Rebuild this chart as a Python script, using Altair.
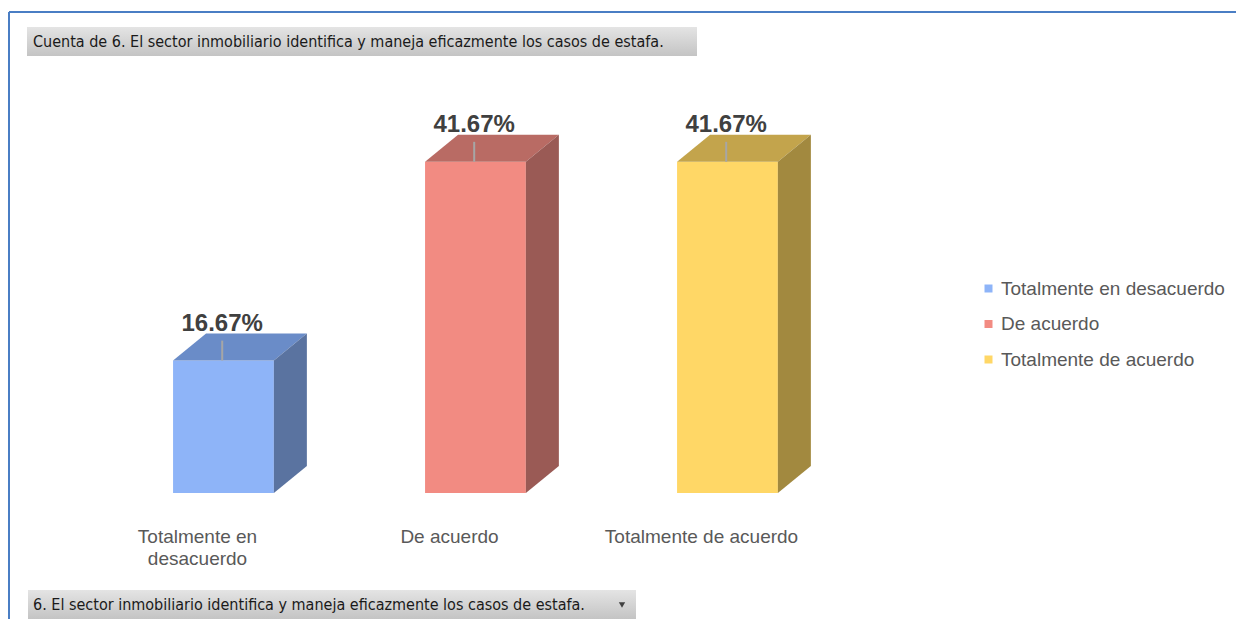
import altair as alt
import pandas as pd

# ---- data ----
categories = ["Totalmente en desacuerdo", "De acuerdo", "Totalmente de acuerdo"]
axis_labels = ["Totalmente en\ndesacuerdo", "De acuerdo", "Totalmente de acuerdo"]
values = [16.67, 41.67, 41.67]
value_labels = ["16.67%", "41.67%", "41.67%"]
front_colors = ["#8EB4F8", "#F28B82", "#FFD766"]
top_colors = ["#6A8CC8", "#B96B64", "#C3A44C"]
side_colors = ["#5A73A0", "#9A5A55", "#A2893F"]
title_text = "Cuenta de 6. El sector  inmobiliario identifica y maneja eficazmente  los casos de estafa."
field_text = "6. El sector  inmobiliario identifica y maneja eficazmente  los casos de estafa."

# ---- geometry of the pseudo-3D bars (in data units) ----
W = 1228
H = 611
HALF = 0.2      # half width of the front face (category units)
DX = 0.131      # depth offset in category units
DY = 3.4        # depth offset in percent units

XDOM = [-0.855, W / 252 - 0.855]
YDOM = [-(H - 485) / 7.95, 485 / 7.95]

xs = alt.Scale(domain=XDOM, nice=False, zero=False)
ys = alt.Scale(domain=YDOM, nice=False, zero=False)

front_rows, top_rows, side_rows, lab_rows, lead_rows, cat_rows = [], [], [], [], [], []
for i, (c, v) in enumerate(zip(categories, values)):
    front_rows.append(dict(cat=c, x=i - HALF, x2=i + HALF, y=0, y2=v))
    top_rows.append(dict(cat=c, col=top_colors[i], y=v, x=i - HALF, x2=i + HALF))
    top_rows.append(dict(cat=c, col=top_colors[i], y=v + DY, x=i - HALF + DX, x2=i + HALF + DX))
    side_rows.append(dict(cat=c, col=side_colors[i], x=i + HALF, y=0, y2=v))
    side_rows.append(dict(cat=c, col=side_colors[i], x=i + HALF + DX, y=DY, y2=v + DY))
    lab_rows.append(dict(x=i - 0.005, y=v + 3.75, t=value_labels[i]))
    lead_rows.append(dict(cat=c, x=i - 0.005, y=v, y2=v + 2.5))
    cat_rows.append(dict(x=i - 0.103, y=-4.4, t=axis_labels[i]))

front_df = pd.DataFrame(front_rows)
top_df = pd.DataFrame(top_rows)
side_df = pd.DataFrame(side_rows)
lab_df = pd.DataFrame(lab_rows)
lead_df = pd.DataFrame(lead_rows)
cat_df = pd.DataFrame(cat_rows)

front = alt.Chart(front_df).mark_rect().encode(
    x=alt.X("x:Q", scale=xs, axis=None),
    x2="x2:Q",
    y=alt.Y("y:Q", scale=ys, axis=None),
    y2="y2:Q",
    color=alt.Color(
        "cat:N",
        scale=alt.Scale(domain=categories, range=front_colors),
        legend=alt.Legend(
            orient="none", legendX=971, legendY=271, title=None,
            symbolType="square", symbolSize=64, symbolStrokeWidth=0,
            labelFontSize=19, labelFont="Liberation Sans", labelColor="#595959",
            rowPadding=15.5, labelOffset=3, padding=0, labelLimit=400,
        ),
    ),
)

top = alt.Chart(top_df).mark_area(orient="horizontal").encode(
    y=alt.Y("y:Q", scale=ys, axis=None),
    x=alt.X("x:Q", scale=xs, axis=None),
    x2="x2:Q",
    detail="cat:N",
    color=alt.Color("col:N", scale=None),
)

side = alt.Chart(side_df).mark_area(orient="vertical").encode(
    x=alt.X("x:Q", scale=xs, axis=None),
    y=alt.Y("y:Q", scale=ys, axis=None),
    y2="y2:Q",
    detail="cat:N",
    color=alt.Color("col:N", scale=None),
)

leaders = alt.Chart(lead_df).mark_rule(color="#A6A6A6", strokeWidth=2).encode(
    x=alt.X("x:Q", scale=xs, axis=None),
    y=alt.Y("y:Q", scale=ys, axis=None),
    y2="y2:Q",
)

vlabels = alt.Chart(lab_df).mark_text(
    font="Liberation Sans", fontSize=24, fontWeight="bold", color="#404040",
    baseline="alphabetic", align="center",
).encode(
    x=alt.X("x:Q", scale=xs, axis=None),
    y=alt.Y("y:Q", scale=ys, axis=None),
    text="t:N",
)

clabels = alt.Chart(cat_df).mark_text(
    font="Liberation Sans", fontSize=19, color="#595959",
    baseline="top", align="center", lineBreak="\n", lineHeight=22,
).encode(
    x=alt.X("x:Q", scale=xs, axis=None),
    y=alt.Y("y:Q", scale=ys, axis=None),
    text="t:N",
)

# ---- frame and pivot field buttons (decoration) ----
deco_df = pd.DataFrame({"k": [0]})
blue = "#4A7EC4"
border_top = alt.Chart(deco_df).mark_rule(color=blue, strokeWidth=2).encode(
    x=alt.value(1), x2=alt.value(W), y=alt.value(4)
)
border_left = alt.Chart(deco_df).mark_rule(color=blue, strokeWidth=2).encode(
    x=alt.value(1), y=alt.value(4), y2=alt.value(H)
)
grad = {
    "gradient": "linear", "x1": 0, "y1": 0, "x2": 0, "y2": 1,
    "stops": [{"offset": 0, "color": "#E4E4E4"}, {"offset": 1, "color": "#C4C4C4"}],
}
btn_font = "DejaVu Sans Condensed"
title_box = alt.Chart(deco_df).mark_rect(fill=grad).encode(
    x=alt.value(19), x2=alt.value(689), y=alt.value(19), y2=alt.value(48)
)
title_txt = alt.Chart(deco_df).mark_text(
    text=title_text, font=btn_font, fontSize=16, color="#1A1A1A",
    align="left", baseline="middle",
).encode(x=alt.value(25), y=alt.value(34))
field_box = alt.Chart(deco_df).mark_rect(fill=grad).encode(
    x=alt.value(20), x2=alt.value(628), y=alt.value(582), y2=alt.value(611)
)
field_txt = alt.Chart(deco_df).mark_text(
    text=field_text, font=btn_font, fontSize=16, color="#1A1A1A",
    align="left", baseline="middle",
).encode(x=alt.value(25), y=alt.value(597))
field_arrow = alt.Chart(deco_df).mark_point(
    shape="triangle-down", filled=True, size=40, color="#404040", opacity=1
).encode(x=alt.value(614), y=alt.value(597))

chart = alt.layer(
    border_top, border_left, title_box, title_txt, field_box, field_txt, field_arrow,
    front, top, side, leaders, vlabels, clabels,
).properties(
    width=W, height=H, padding=0, autosize=alt.AutoSizeParams(type="none"),
    background="white",
).configure_view(stroke=None)

chart.save("out.html", embed_options={"renderer": "svg", "actions": False})
